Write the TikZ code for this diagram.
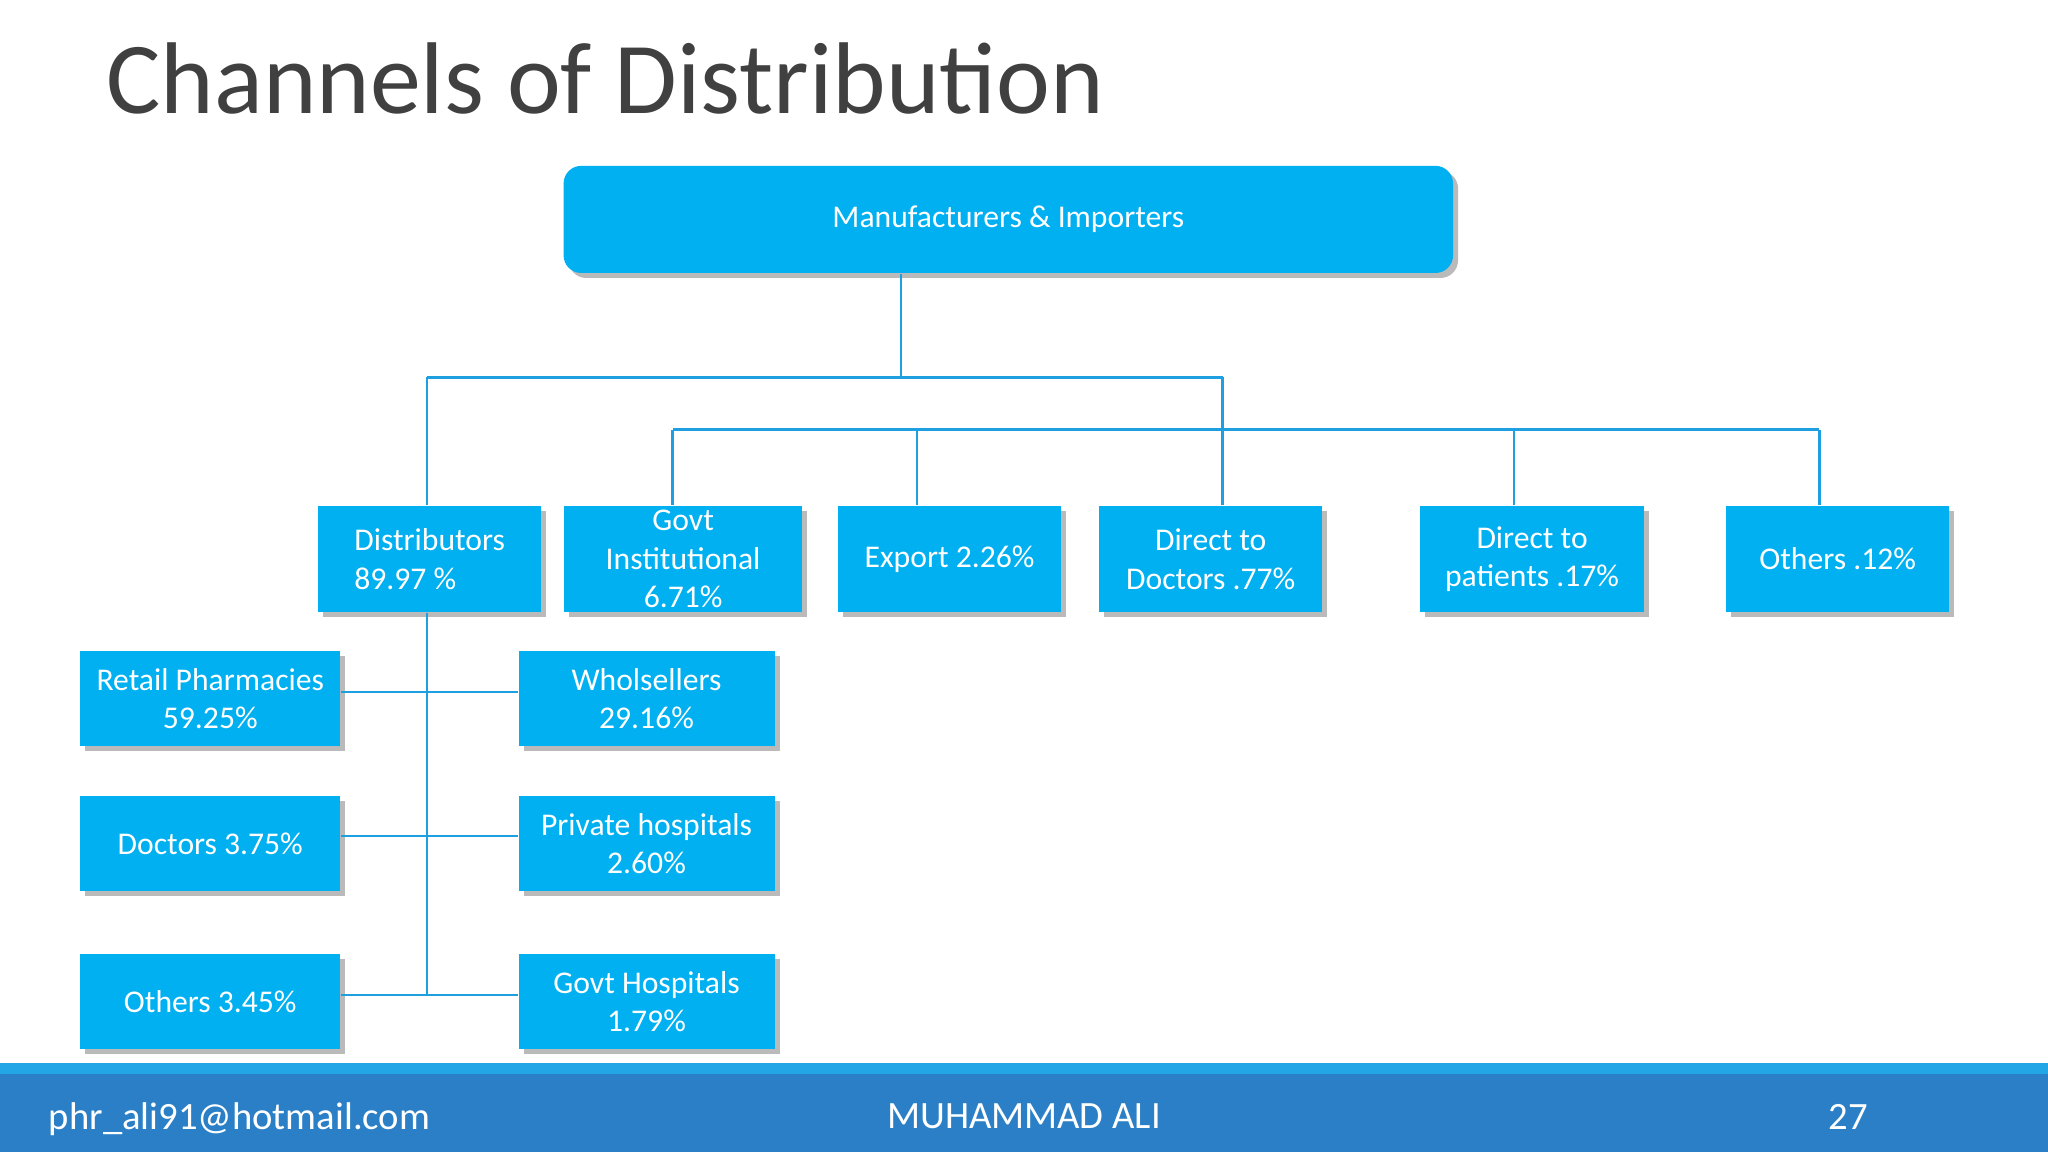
\documentclass[tikz,border=0pt]{standalone}
\usepackage{fontspec}
\setmainfont{Carlito}
\usetikzlibrary{calc, shadows}
\definecolor{boxblue}{HTML}{00B0F0}
\definecolor{linkblue}{HTML}{1E9FE0}
\definecolor{footblue}{HTML}{2A7FC6}
\definecolor{footline}{HTML}{22A6E6}
\tikzset{
  box/.style={fill=boxblue, text=white, inner sep=0pt, align=center,
    font=\fontsize{9}{11}\selectfont,
    drop shadow={shadow xshift=0.5mm, shadow yshift=-0.5mm, fill=black!45, opacity=0.6}},
  link/.style={draw=linkblue, line width=0.7pt}
}
\begin{document}
\begin{tikzpicture}[x=0.013061cm, y=-0.013061cm]
  \useasboundingbox (0, 0) rectangle (1568, 882);
  \node[anchor=west, text=black!75, font=\fontsize{29}{32}\selectfont] (title) at (72, 60) {Channels of Distribution};
  % top level
  \node[box, rounded corners=5pt, minimum width=681*0.13061mm, minimum height=82*0.13061mm] (mfr) at (772, 168) {Manufacturers \& Importers};
  \def\bw{171*0.13061mm}
  \def\bh{81*0.13061mm}
  \node[box, minimum width=\bw, minimum height=\bh, align=left] (dist) at (329, 428) {Distributors\\89.97 \%};
  \node[box, minimum width=182*0.13061mm, minimum height=\bh] (govt) at (523, 428) {Govt\\Institutional\\6.71\%};
  \node[box, minimum width=\bw, minimum height=\bh] (export) at (727, 428) {Export 2.26\%};
  \node[box, minimum width=\bw, minimum height=\bh] (ddoc) at (927, 428) {Direct to\\Doctors .77\%};
  \node[box, minimum width=\bw, minimum height=\bh] (dpat) at (1173, 428) {Direct to\\patients .17\%};
  \node[box, minimum width=\bw, minimum height=\bh] (oth) at (1407, 428) {Others .12\%};
  % second level
  \def\cw{199*0.13061mm}
  \def\dw{196*0.13061mm}
  \def\ch{73*0.13061mm}
  \node[box, minimum width=\cw, minimum height=\ch] (retail) at (161, 535) {Retail Pharmacies\\59.25\%};
  \node[box, minimum width=\dw, minimum height=\ch] (whole) at (495, 535) {Wholsellers\\29.16\%};
  \node[box, minimum width=\cw, minimum height=\ch] (doc) at (161, 646) {Doctors 3.75\%};
  \node[box, minimum width=\dw, minimum height=\ch] (priv) at (495, 646) {Private hospitals\\2.60\%};
  \node[box, minimum width=\cw, minimum height=\ch] (oth2) at (161, 767) {Others 3.45\%};
  \node[box, minimum width=\dw, minimum height=\ch] (ghosp) at (495, 767) {Govt Hospitals\\1.79\%};
  % connectors
  \coordinate (j1) at (690, 289);
  \coordinate (d1) at (327, 289);
  \coordinate (d2) at (936, 289);
  \coordinate (e1) at (515, 329);
  \coordinate (e2) at (1393, 329);
  \coordinate (s) at (327, 762);
  \draw[link] (mfr.south -| j1) -- (j1);
  \draw[link] (d1) -- (d2);
  \draw[link] (d1) -- (dist.north -| d1);
  \draw[link] (d2) -- (ddoc.north -| d2);
  \draw[link] (e1) -- (e2);
  \draw[link] (e1) -- (govt.north -| e1);
  \draw[link] (export.north -| 702, 329) -- (702, 329);
  \draw[link] (dpat.north -| 1159, 329) -- (1159, 329);
  \draw[link] (e2) -- (oth.north -| e2);
  \draw[link] (dist.south -| s) -- (s);
  \draw[link] (retail.east |- 0, 530) -- (whole.west |- 0, 530);
  \draw[link] (doc.east |- 0, 640) -- (priv.west |- 0, 640);
  \draw[link] (oth2.east |- 0, 762) -- (ghosp.west |- 0, 762);
  % footer
  \fill[footline] (0, 814) rectangle (1568, 822);
  \fill[footblue] (0, 822) rectangle (1568, 882);
  \node[anchor=west, text=white, font=\fontsize{11}{13}\selectfont] (mail) at (28, 857) {phr\_ali91@hotmail.com};
  \node[text=white, font=\fontsize{11}{13}\selectfont] (name) at (784, 855) {MUHAMMAD ALI};
  \node[text=white, font=\fontsize{11}{13}\selectfont] (page) at (1415, 855) {27};
\end{tikzpicture}
\end{document}
